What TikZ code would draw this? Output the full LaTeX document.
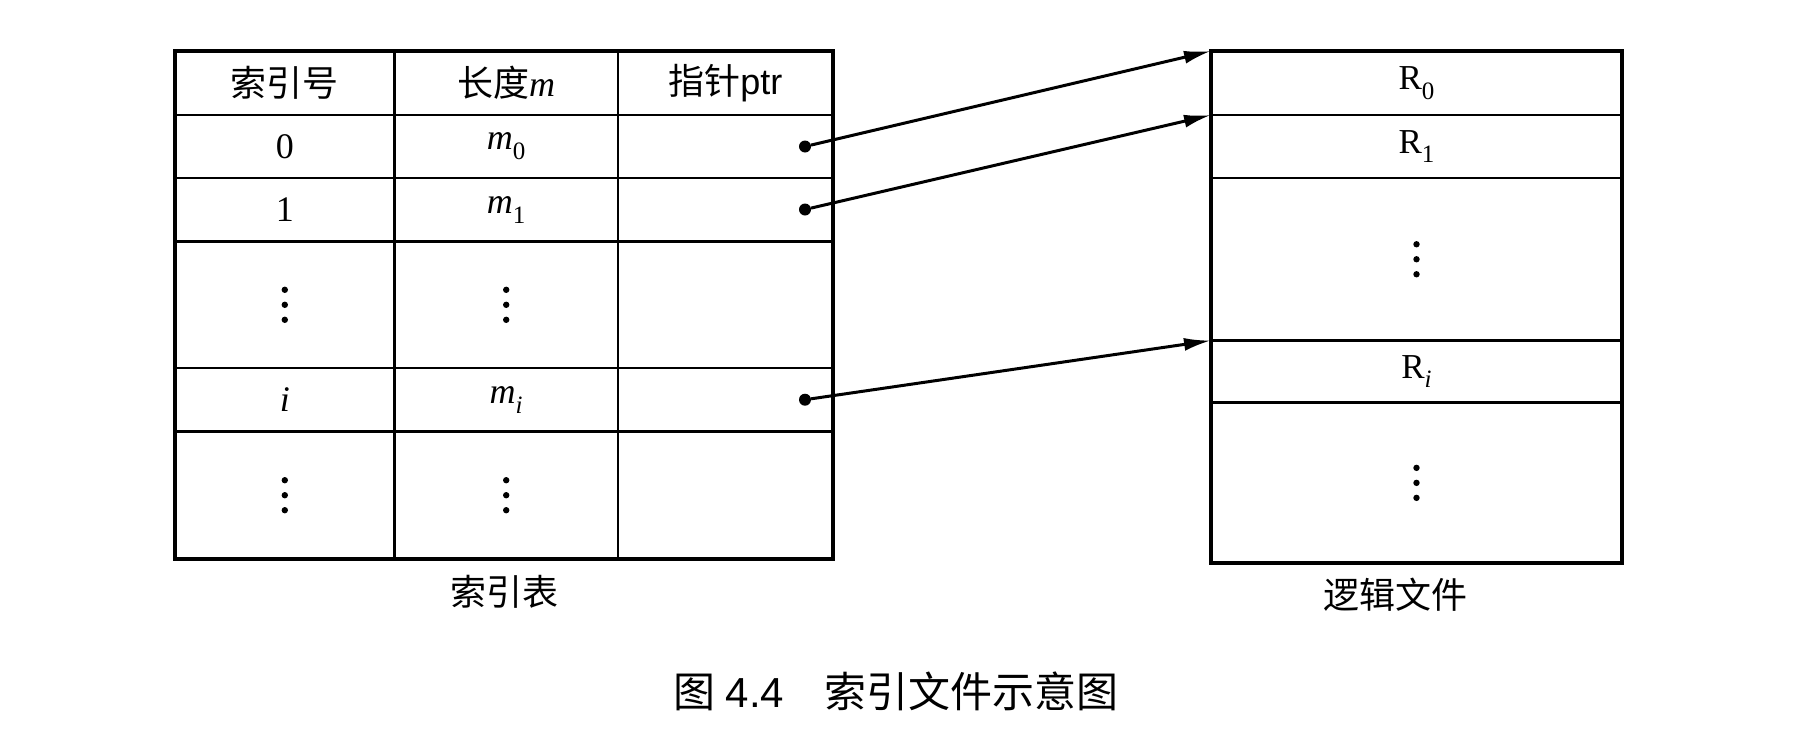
\documentclass[tikz,border=0pt]{standalone}
\usepackage{fontspec}
\setmainfont{Liberation Serif}
\setsansfont{Liberation Sans}
\newfontfamily\cjk{Noto Sans CJK SC}
\usetikzlibrary{arrows.meta}
\newcommand\lsub[1]{\raisebox{-0.28em}{\fontsize{25}{25}\selectfont #1}}
\begin{document}
\begin{tikzpicture}[x=1pt,y=-1pt,
  cell/.style={draw, line width=2.6pt, inner sep=0pt, outer sep=0pt, anchor=center},
  outerbox/.style={line width=4pt},
  tx/.style={font=\fontsize{36}{36}\selectfont, inner sep=0pt},
  rx/.style={font=\fontsize{35}{35}\selectfont, inner sep=0pt},
  cj/.style={font=\fontsize{36}{36}\selectfont\cjk, inner sep=0pt},
  ptrdot/.style={circle, fill, inner sep=0pt, minimum size=12pt},
  arr/.style={line width=3pt, -{Latex[length=27pt,width=13pt]}}
]
\useasboundingbox (0,0) rectangle (1804,742);
% index table cells
\foreach \r/\yc/\h in {0/83/64, 1/146.5/63, 2/209.8/63.6, 3/304.8/126.4, 4/399.7/63.4, 5/495.2/127.6}
  \foreach \c/\xc/\w in {0/284.8/219.6, 1/506.2/223.2, 2/725.4/215.2}
    \node[cell, minimum width=\w pt, minimum height=\h pt] (c\r\c) at (\xc,\yc) {};
\draw[outerbox] (c00.north west) rectangle (c52.south east);
% logical file cells
\foreach \r/\yc/\h in {0/83/64, 1/146.5/63, 2/259.25/162.5, 3/371.6/62.2, 4/482.85/160.3}
  \node[cell, minimum width=411pt, minimum height=\h pt] (q\r) at (1416.5,\yc) {};
\draw[outerbox] (q0.north west) rectangle (q4.south east);
% texts
\node[cj] (t00) at (c00) {索引号};
\node[cj] (t01) at (c01) {长度{\fontspec{Liberation Serif}\itshape m}};
\node[cj] (t02) at (c02) {指针{\sffamily ptr}};
\node[tx] (t10) at (c10) {0};
\node[tx] (t11) at (c11) {\textit{m}\lsub{0}};
\node[tx] (t20) at (c20) {1};
\node[tx] (t21) at (c21) {\textit{m}\lsub{1}};
\node[tx] (t40) at (c40) {\textit{i}};
\node[tx] (t41) at (c41) {\textit{m}\lsub{\textit{i}}};
\node[rx] (s0) at (q0) {R\lsub{0}};
\node[rx] (s1) at (q1) {R\lsub{1}};
\node[rx] (s3) at (q3) {R\lsub{\textit{i}}};
% vertical ellipses
\foreach \n in {c30,c31,c50,c51,q2,q4}
  \foreach \d in {-15,0,15}
    \fill ([yshift=\d pt]\n.center) circle (3.2pt);
% pointers
\node[ptrdot] (p0) at (805,146.5) {};
\node[ptrdot] (p1) at (805,209.5) {};
\node[ptrdot] (p4) at (805,399.7) {};
\draw[arr] (p0) -- (q0.north west);
\draw[arr] (p1) -- (q1.north west);
\draw[arr] (p4) -- (q3.north west);
% labels
\node[cj] (lab1) at (504,592) {索引表};
\node[cj] (lab2) at (1395,595) {逻辑文件};
\node[font=\fontsize{42}{42}\selectfont\cjk, inner sep=0pt] (cap) at (896,691)
  {图\hspace{10pt}{\sffamily 4.4}\hspace{40pt}索引文件示意图};
\end{tikzpicture}
\end{document}
